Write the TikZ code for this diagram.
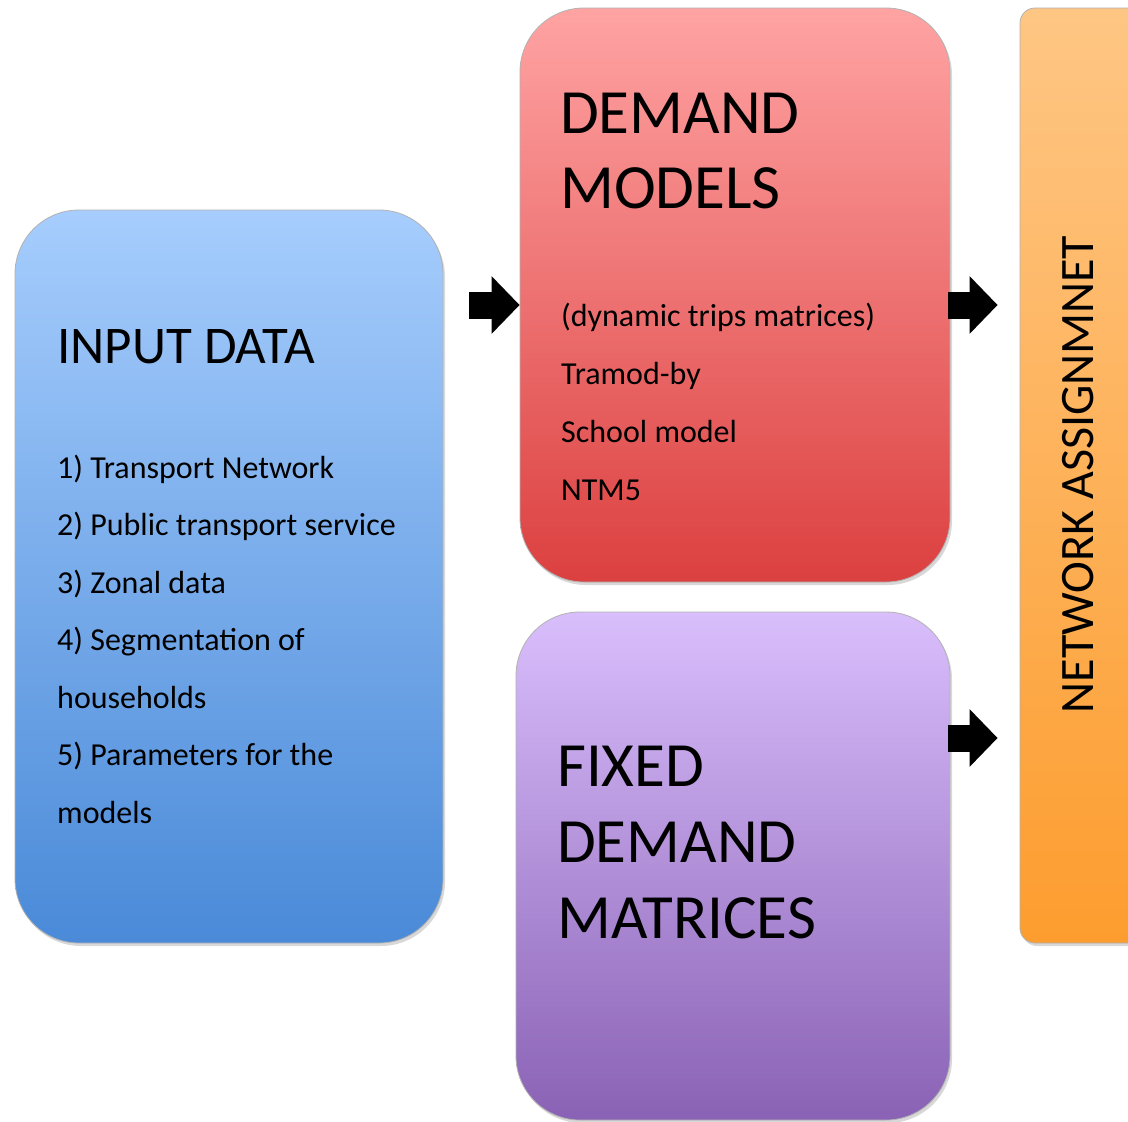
\documentclass[tikz,border=0pt]{standalone}
\usepackage{fontspec}
\setmainfont{Carlito}
\usetikzlibrary{arrows.meta, shadows}

\definecolor{inputtop}{HTML}{A6CDFD}
\definecolor{inputbot}{HTML}{4A8AD8}
\definecolor{demandtop}{HTML}{FFA3A3}
\definecolor{demandbot}{HTML}{DC4040}
\definecolor{fixedtop}{HTML}{D9BEFC}
\definecolor{fixedbot}{HTML}{8A62B5}
\definecolor{nettop}{HTML}{FEC684}
\definecolor{netbot}{HTML}{FD9D2F}

\begin{document}
\begin{tikzpicture}[x=1pt, y=-1pt]
	\tikzset{box/.style={rounded corners=64pt, shade, draw=black!30, line width=0.8pt, inner sep=0pt,
			drop shadow={shadow xshift=2pt, shadow yshift=-3pt, opacity=0.3}},
		bigtitle/.style={font=\fontsize{63}{76}\selectfont, align=left, inner sep=0pt},
		title/.style={font=\fontsize{53}{60}\selectfont, inner sep=0pt},
		items/.style={font=\fontsize{32}{57.5}\selectfont, align=left, inner sep=0pt},
		blockarrow/.style={line width=27pt, -{Triangle[length=28pt, width=56pt]}}}

	\fill[white] (0,0) rectangle (1128,1122);
	\useasboundingbox (0,0) rectangle (1128,1122);

	% boxes
	\node[box, top color=inputtop, bottom color=inputbot, minimum width=428pt, minimum height=733pt] (input) at (229,576.5) {};
	\node[box, top color=demandtop, bottom color=demandbot, minimum width=430pt, minimum height=574pt] (demand) at (735,295) {};
	\node[box, top color=fixedtop, bottom color=fixedbot, minimum width=434pt, minimum height=508pt] (fixed) at (733,866) {};
	\node[box, rounded corners=15pt, top color=nettop, bottom color=netbot, minimum width=130pt, minimum height=935pt] (network) at (1085,475.5) {};

	% texts (multi-line nodes sit on their last line)
	\node[title, anchor=base west] (inputtitle) at (57,363) {INPUT DATA};
	\node[items, anchor=base west] (inputitems) at (57,823) {1) Transport Network\\2) Public transport service\\3) Zonal data\\4) Segmentation of\\households\\5) Parameters for the\\models};
	\node[bigtitle, font=\fontsize{63}{75}\selectfont, anchor=base west] (demandtitle) at (560,208) {DEMAND\\MODELS};
	\node[items, font=\fontsize{32}{57.7}\selectfont, anchor=base west] (demanditems) at (561,500) {(dynamic trips matrices)\\Tramod-by\\School model\\NTM5};
	\node[bigtitle, anchor=base west] (fixedtitle) at (557,938) {FIXED\\DEMAND\\MATRICES};
	\node[rotate=90, anchor=base, inner sep=0pt, font=\fontsize{48}{50}\selectfont] (nettitle) at (1093,474.5) {NETWORK ASSIGNMNET};

	% arrows
	\coordinate (a1) at (469,305);
	\coordinate (a2) at (948,305);
	\coordinate (a3) at (948,738);
	\draw[blockarrow] (a1) -- (a1 -| demand.west);
	\draw[blockarrow] (a2) -- ([xshift=-22pt]a2 -| network.west);
	\draw[blockarrow] (a3) -- ([xshift=-22pt]a3 -| network.west);
\end{tikzpicture}
\end{document}
